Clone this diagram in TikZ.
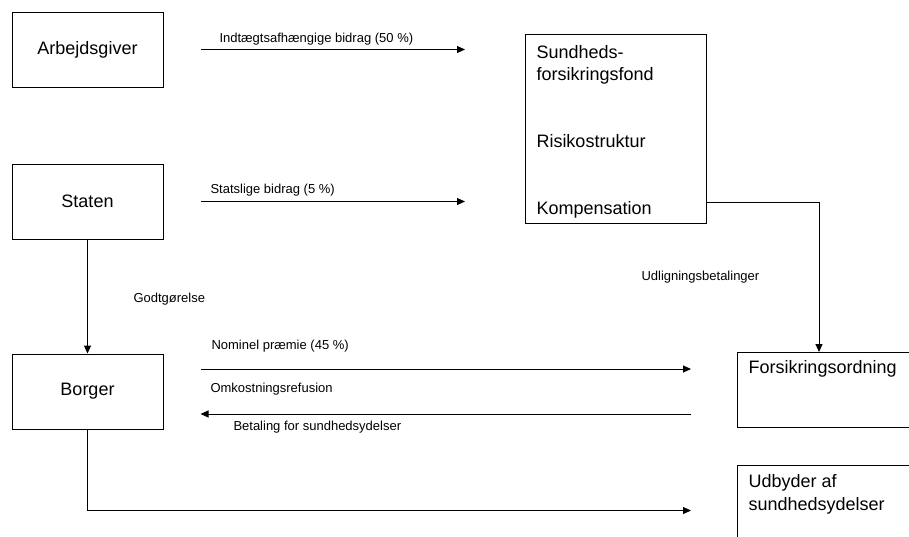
\documentclass[tikz,border=0pt]{standalone}
\usepackage{fontspec}
\setmainfont{Liberation Sans}
\usetikzlibrary{arrows.meta,calc,positioning}
\tikzstyle{box} = [rectangle,
                  draw=black,
                  line width=1pt,
                  minimum width=151pt,
                  minimum height=75pt,
                  inner sep=0pt,
                  font=\fontsize{18}{22}\selectfont]
\tikzstyle{bigbox} = [rectangle,
                     draw=black,
                     line width=1pt,
                     anchor=north west,
                     inner sep=0pt]
\tikzstyle{boxtext} = [anchor=base west,
                      inner sep=0pt,
                      font=\fontsize{18}{22}\selectfont]
\tikzstyle{flowlabel} = [anchor=base west,
                        inner sep=0pt,
                        font=\fontsize{13}{16}\selectfont]
\tikzstyle{flow} = [x=1pt,
                   y=-1pt,
                   line width=1pt,
                   >={Triangle[length=8pt,width=7pt]}]

\begin{document}
\begin{tikzpicture}[flow]
    \useasboundingbox (0,0) rectangle (909,536);
    \node (arbejd) at (87.5,49.5) [box] {Arbejdsgiver};
    \node (staten) [below=76pt of arbejd] [box] {Staten};
    \node (borger) [below=114pt of staten] [box] {Borger};
    \node (fond) at (525,34) [bigbox, minimum width=181pt, minimum height=189pt] {};
    \node (ordning) at (737,352) [bigbox, minimum width=200pt, minimum height=75pt] {};
    \node (udbyder) at (737,465) [bigbox, minimum width=200pt, minimum height=90pt] {};
    \node (fondnavn) at (536,45) [boxtext, anchor=north west, align=left] {Sundheds-\\forsikringsfond};
    \node (risiko) at (536,147) [boxtext] {Risikostruktur};
    \node (komp) at (536,214) [boxtext] {Kompensation};
    \node (ordningnavn) at (748,373) [boxtext] {Forsikringsordning};
    \node (udbydernavn) at (748,474) [boxtext, anchor=north west, align=left] {Udbyder af\\[1pt]sundhedsydelser};
    % labels
    \node (indt) at (219,42) [flowlabel] {Indtægtsafhængige bidrag (50 \%)};
    \node (stats) at (210,193) [flowlabel] {Statslige bidrag (5 \%)};
    \node (godt) at (133,302) [flowlabel] {Godtgørelse};
    \node (udlign) at (641,280) [flowlabel] {Udligningsbetalinger};
    \node (praemie) at (211,349) [flowlabel] {Nominel præmie (45 \%)};
    \node (refusion) at (210,392) [flowlabel] {Omkostningsrefusion};
    \node (betaling) at (233,430) [flowlabel] {Betaling for sundhedsydelser};
    \path[->]
      ($(arbejd.east)+(37,0)$) edge ($(arbejd.east -| fond.west)+(-60,0)$)
      ($(staten.east)+(37,0)$) edge ($(staten.east -| fond.west)+(-60,0)$)
      (staten) edge (borger)
      ($(borger.east)+(37,-22.5)$) edge ($(borger.east -| ordning.west)+(-46,-22.5)$)
      ($(borger.east -| ordning.west)+(-46,22.5)$) edge ($(borger.east)+(37,22.5)$);
    \draw[->] ($(fond.south east)+(0,-22)$) -| ($(ordning.north west)+(82,0)$);
    \draw[->] (borger.south) |- ($(udbyder.west)+(-46,0)$);
\end{tikzpicture}
\end{document}
